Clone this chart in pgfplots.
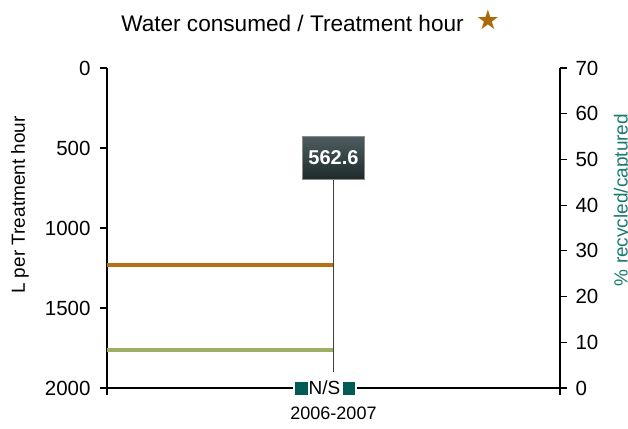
\documentclass[border=0pt]{standalone}
\usepackage{pgfplots}
\pgfplotsset{compat=1.18}
\usepackage{fontspec}
\setmainfont{Liberation Sans}
\newfontfamily\symfont{DejaVu Sans}
\definecolor{brownline}{HTML}{B5700F}
\definecolor{greenline}{HTML}{9BB065}
\definecolor{nsteal}{HTML}{005A55}
\definecolor{labteal}{HTML}{1A7A70}
\definecolor{boxtop}{HTML}{4E5D60}
\definecolor{boxbot}{HTML}{1E2A2A}
\definecolor{startcol}{HTML}{A86A0A}
\begin{document}
\begin{tikzpicture}[x=1pt,y=1pt]
\useasboundingbox (-107,-40) rectangle (521,388);
\begin{axis}[
  at={(0,0)}, anchor=south west, scale only axis,
  width=453pt, height=320pt,
  xmin=-0.5, xmax=0.5, ymin=0, ymax=2000, y dir=reverse,
  axis x line=none, axis y line*=left,
  ytick={0,500,1000,1500,2000},
  tick align=outside, major tick length=7pt,
  ticklabel style={font=\fontsize{20.5}{24}\selectfont},
  y tick label style={xshift=-6pt},
  /pgf/number format/assume math mode=true,
  scaled y ticks=false,
  y tick label style={/pgf/number format/1000 sep={}},
  axis line style={line width=1.2pt, -},
  tick style={line width=1.2pt, black},
  clip=false]
\addplot[brownline, line width=4.5pt] coordinates {(-0.5,1231) (0,1231)};
\addplot[greenline, line width=4.5pt] coordinates {(-0.5,1762) (0,1762)};
\addplot[draw=black!75, line width=1pt] coordinates {(0,562.6) (0,1900)}
  node[pos=0, draw=black!45, line width=0.8pt, top color=boxtop, bottom color=boxbot,
       text=white, font=\fontsize{20}{24}\selectfont\bfseries,
       minimum width=62pt, minimum height=43pt, inner sep=0pt] {562.6};
\end{axis}
\begin{axis}[
  at={(0,0)}, anchor=south west, scale only axis,
  width=453pt, height=320pt,
  xmin=-0.5, xmax=0.5, ymin=0, ymax=70,
  axis y line*=right, axis x line*=bottom,
  ytick={0,10,...,70},
  xtick={-0.5,0.5}, xticklabels={,},
  extra x ticks={0}, extra x tick labels={2006-2007},
  extra x tick style={major tick length=0pt, tick label style={font=\fontsize{18}{22}\selectfont, yshift=-15pt}},
  tick align=outside, major tick length=7pt,
  ticklabel style={font=\fontsize{20.5}{24}\selectfont},
  y tick label style={xshift=5pt},
  /pgf/number format/assume math mode=true,
  axis line style={line width=1.2pt, -},
  tick style={line width=1.2pt, black},
  clip=false]
\addplot[draw=none] coordinates {(0,0)};
\end{axis}
\node[fill=white, inner sep=1.5pt, font=\fontsize{19}{22}\selectfont] at (218,0)
  {\textcolor{nsteal}{\rule{13pt}{13pt}}\hspace{1pt}N/S\hspace{3pt}\textcolor{nsteal}{\rule{12pt}{13pt}}};
\node[rotate=90, anchor=base, font=\fontsize{19}{22}\selectfont] at (-82,183) {L per Treatment hour};
\node[rotate=90, anchor=base, text=labteal, font=\fontsize{19}{22}\selectfont] at (520.5,188) {\% recycled/captured};
\node[anchor=base, font=\fontsize{22.6}{26}\selectfont] at (185.5,356) {Water consumed / Treatment hour};
\node[text=startcol, font=\symfont\fontsize{27}{30}\selectfont] at (381,368) {★};
\end{tikzpicture}
\end{document}
